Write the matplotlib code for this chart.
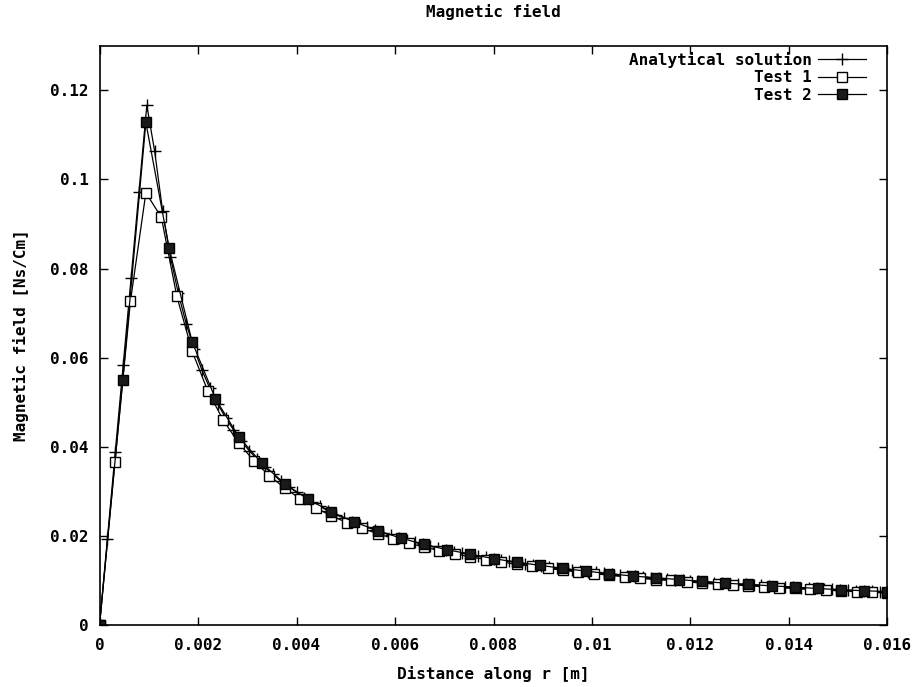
import matplotlib
matplotlib.use("Agg")
import matplotlib.pyplot as plt

# ---------------- data ----------------
r_analytical = [0.0, 0.00016, 0.00032, 0.00048, 0.00064, 0.0008, 0.00096, 0.00112, 0.00128, 0.00144,
                0.0016, 0.00176, 0.00192, 0.00208, 0.00224, 0.0024, 0.00256, 0.00272, 0.00288, 0.00304,
                0.0032, 0.00336, 0.00352, 0.00368, 0.00384, 0.004, 0.00416, 0.00432, 0.00448, 0.00464,
                0.0048, 0.00496, 0.00512, 0.00528, 0.00544, 0.0056, 0.00576, 0.00592, 0.00608, 0.00624,
                0.0064, 0.00656, 0.00672, 0.00688, 0.00704, 0.0072, 0.00736, 0.00752, 0.00768, 0.00784,
                0.008, 0.00816, 0.00832, 0.00848, 0.00864, 0.0088, 0.00896, 0.00912, 0.00928, 0.00944,
                0.0096, 0.00976, 0.00992, 0.01008, 0.01024, 0.0104, 0.01056, 0.01072, 0.01088, 0.01104,
                0.0112, 0.01136, 0.01152, 0.01168, 0.01184, 0.012, 0.01216, 0.01232, 0.01248, 0.01264,
                0.0128, 0.01296, 0.01312, 0.01328, 0.01344, 0.0136, 0.01376, 0.01392, 0.01408, 0.01424,
                0.0144, 0.01456, 0.01472, 0.01488, 0.01504, 0.0152, 0.01536, 0.01552, 0.01568, 0.01584,
                0.016]
b_analytical = [0.0, 0.0194, 0.0389, 0.0583, 0.0778, 0.0972, 0.1166, 0.1063, 0.0930, 0.0826,
                0.0744, 0.0676, 0.0620, 0.0572, 0.0531, 0.0496, 0.0465, 0.0438, 0.0413, 0.0391,
                0.0372, 0.0354, 0.0338, 0.0323, 0.0310, 0.0298, 0.0286, 0.0275, 0.0266, 0.0256,
                0.0248, 0.0240, 0.0232, 0.0225, 0.0219, 0.0213, 0.0207, 0.0201, 0.0196, 0.0191,
                0.0186, 0.0181, 0.0177, 0.0173, 0.0169, 0.0165, 0.0162, 0.0158, 0.0155, 0.0152,
                0.0149, 0.0146, 0.0143, 0.0140, 0.0138, 0.0135, 0.0133, 0.0130, 0.0128, 0.0126,
                0.0124, 0.0122, 0.0120, 0.0118, 0.0116, 0.0114, 0.0113, 0.0111, 0.0109, 0.0108,
                0.0106, 0.0105, 0.0103, 0.0102, 0.0101, 0.0099, 0.0098, 0.0097, 0.0095, 0.0094,
                0.0093, 0.0092, 0.0091, 0.0090, 0.0089, 0.0088, 0.0086, 0.0085, 0.0085, 0.0084,
                0.0083, 0.0082, 0.0081, 0.0080, 0.0079, 0.0078, 0.0077, 0.0077, 0.0076, 0.0075,
                0.0074]

r_test1 = [0.0, 0.000314, 0.000627, 0.000941, 0.001255, 0.001569, 0.001882, 0.002196, 0.00251, 0.002824,
           0.003137, 0.003451, 0.003765, 0.004078, 0.004392, 0.004706, 0.00502, 0.005333, 0.005647, 0.005961,
           0.006275, 0.006588, 0.006902, 0.007216, 0.00753, 0.007843, 0.008157, 0.008471, 0.008784, 0.009098,
           0.009412, 0.009725, 0.010039, 0.010353, 0.010667, 0.01098, 0.011294, 0.011608, 0.011922, 0.012235,
           0.012549, 0.012863, 0.013176, 0.01349, 0.013804, 0.014118, 0.014431, 0.014745, 0.015059, 0.015373,
           0.015686, 0.016]
b_test1 = [0.0, 0.0366, 0.0726, 0.0970, 0.0915, 0.0738, 0.0614, 0.0526, 0.0460, 0.0409,
           0.0368, 0.0335, 0.0307, 0.0283, 0.0263, 0.0245, 0.0230, 0.0217, 0.0205, 0.0194,
           0.0184, 0.0175, 0.0167, 0.0160, 0.0153, 0.0147, 0.0142, 0.0136, 0.0132, 0.0127,
           0.0123, 0.0119, 0.0115, 0.0112, 0.0108, 0.0105, 0.0102, 0.0100, 0.0097, 0.0094,
           0.0092, 0.0090, 0.0088, 0.0086, 0.0084, 0.0082, 0.0080, 0.0078, 0.0077, 0.0075,
           0.0074, 0.0072]

r_test2 = [0.0, 0.000471, 0.000941, 0.001412, 0.001882, 0.002353, 0.002824, 0.003294, 0.003765, 0.004235,
           0.004706, 0.005176, 0.005647, 0.006118, 0.006588, 0.007059, 0.007529, 0.008, 0.008471, 0.008941,
           0.009412, 0.009882, 0.010353, 0.010824, 0.011294, 0.011765, 0.012235, 0.012706, 0.013176, 0.013647,
           0.014118, 0.014588, 0.015059, 0.015529, 0.016]
b_test2 = [0.0, 0.0550, 0.1128, 0.0846, 0.0635, 0.0508, 0.0423, 0.0363, 0.0317, 0.0282,
           0.0254, 0.0231, 0.0212, 0.0195, 0.0181, 0.0169, 0.0159, 0.0149, 0.0141, 0.0134,
           0.0127, 0.0121, 0.0115, 0.0110, 0.0106, 0.0102, 0.0098, 0.0094, 0.0091, 0.0088,
           0.0085, 0.0082, 0.0079, 0.0077, 0.0075]

x_ticks = [0, 0.002, 0.004, 0.006, 0.008, 0.01, 0.012, 0.014, 0.016]
x_tick_labels = ["0", "0.002", "0.004", "0.006", "0.008", "0.01", "0.012", "0.014", "0.016"]
y_ticks = [0, 0.02, 0.04, 0.06, 0.08, 0.1, 0.12]
y_tick_labels = ["0", "0.02", "0.04", "0.06", "0.08", "0.1", "0.12"]

# ---------------- plot ----------------
plt.rcParams['font.family'] = ['DejaVu Sans Mono']
plt.rcParams['font.weight'] = 'bold'
FS = 11.5

fig = plt.figure(figsize=(9.19, 6.87), dpi=100)
ax = fig.add_axes([0.1083, 0.0902, 0.8574, 0.8433])

ax.plot(r_analytical, b_analytical, color='black', lw=0.9, marker='+', ms=9, mew=1.0,
        label='Analytical solution')
ax.plot(r_test1, b_test1, color='black', lw=0.9, marker='s', ms=6.5, mew=1.0,
        markerfacecolor='white', label='Test 1')
ax.plot(r_test2, b_test2, color='black', lw=0.9, marker='s', ms=6.5, mew=1.0,
        markerfacecolor='#1a1a1a', label='Test 2')

ax.set_xlim(0, 0.016)
ax.set_ylim(0, 0.13)
ax.set_xticks(x_ticks)
ax.set_xticklabels(x_tick_labels, fontsize=FS, fontweight='bold')
ax.set_yticks(y_ticks)
ax.set_yticklabels(y_tick_labels, fontsize=FS, fontweight='bold')
ax.tick_params(direction='in', length=6, width=1.0, top=True, right=True)
ax.tick_params(axis='x', pad=9)
ax.tick_params(axis='y', pad=8)
for s in ax.spines.values():
    s.set_linewidth(1.2)

ax.set_title('Magnetic field', fontsize=FS, fontweight='bold', pad=21)
ax.set_xlabel('Distance along r [m]', fontsize=FS, fontweight='bold', labelpad=10)
ax.set_ylabel('Magnetic field [Ns/Cm]', fontsize=FS, fontweight='bold', labelpad=15)

leg = ax.legend(loc='upper right', frameon=False, markerfirst=False,
                handlelength=3.0, handletextpad=0.4, labelspacing=0.15,
                borderaxespad=0.2, bbox_to_anchor=(0.985, 1.006),
                prop={'family': 'DejaVu Sans Mono', 'weight': 'bold', 'size': FS})
for t in leg.get_texts():
    t.set_ha('right')
leg._legend_box.align = 'right'

fig.savefig('out.png', dpi=100)
